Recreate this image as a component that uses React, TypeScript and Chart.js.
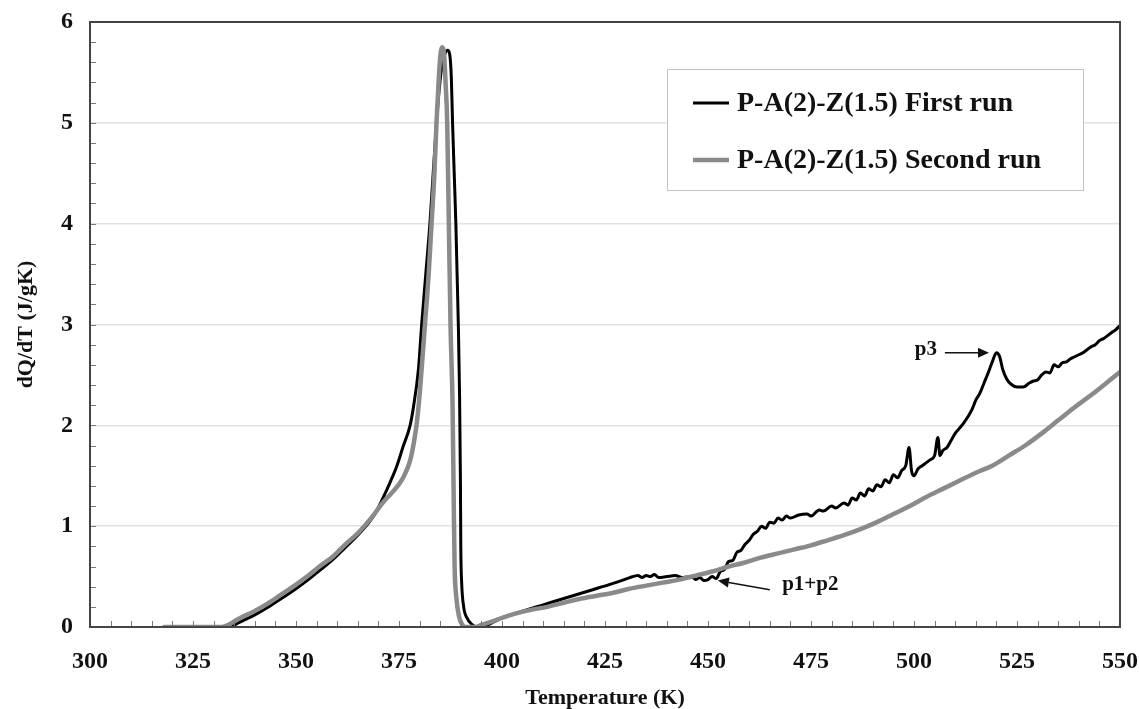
import React, { useEffect, useRef } from "react";
import { Chart, registerables } from "chart.js";

Chart.register(...registerables);

// ---- Data ----
const firstRunT = [
  320, 325, 330, 334, 336, 338, 340, 343, 346, 350, 353, 356, 359, 362, 365, 367, 369, 371, 373, 374.5,
  376, 377.7, 378.5, 379.7, 380.5, 381.5, 382.5, 383.3, 384.1, 384.8, 385.5, 386.2, 386.8, 387.3, 387.7,
  388.0, 388.4, 388.8, 389.1, 389.4, 389.7, 389.9, 390.0, 390.2, 390.7, 391.5, 392.6, 394, 396, 398, 400,
  403, 406, 410, 414, 418, 422, 426, 429, 431, 433, 434, 435, 436, 437, 438, 440, 442, 444, 446, 447, 448,
  449, 450, 451, 452, 453, 454, 455, 456, 457, 458, 459, 460, 461, 462, 463, 464, 465, 466, 467, 468, 469,
  470, 472, 474, 475, 477, 478, 480, 481, 483, 484, 485, 486, 487, 488, 489, 490, 491, 492, 493, 494, 495,
  496, 497, 498, 498.8, 499.4, 500, 501, 502, 503, 504, 505, 505.8, 506.3, 507, 508, 509, 510, 511, 512,
  513, 514, 515, 516, 517, 518, 519, 520, 520.8, 521.5, 522.5, 523.5, 525, 526.5, 528, 529, 530, 531, 532,
  533, 534, 535, 536, 537, 538, 539, 540, 541, 542, 543, 544, 545, 546, 547, 548, 549, 550,
];
const firstRunDQ = [
  0, 0, 0, 0, 0.04, 0.08, 0.12, 0.19, 0.27, 0.38, 0.47, 0.57, 0.67, 0.79, 0.91, 1.0, 1.11, 1.27, 1.45, 1.6,
  1.79, 2.0, 2.18, 2.55, 3.0, 3.5, 4.0, 4.5, 5.0, 5.35, 5.58, 5.69, 5.72, 5.68, 5.45,
  5.0, 4.5, 4.0, 3.5, 3.0, 2.3, 1.5, 0.8, 0.45, 0.2, 0.09, 0.03, 0, 0.01, 0.05, 0.09,
  0.13, 0.17, 0.22, 0.27, 0.32, 0.37, 0.42, 0.46, 0.49, 0.51, 0.49, 0.51, 0.5, 0.52, 0.49, 0.5, 0.51, 0.49, 0.5, 0.47, 0.49,
  0.46, 0.47, 0.5, 0.48, 0.55, 0.57, 0.65, 0.66, 0.74, 0.76, 0.82, 0.86, 0.92, 0.95, 1.0, 0.98, 1.04, 1.03, 1.08, 1.06, 1.1,
  1.08, 1.11, 1.12, 1.1, 1.16, 1.15, 1.2, 1.18, 1.23, 1.21, 1.28, 1.26, 1.33, 1.3, 1.37, 1.35, 1.41, 1.39, 1.46, 1.43, 1.51,
  1.48, 1.55, 1.6, 1.78, 1.55, 1.5, 1.57, 1.6, 1.63, 1.66, 1.7, 1.88, 1.7, 1.75, 1.78, 1.85, 1.92, 1.97, 2.02,
  2.08, 2.15, 2.25, 2.32, 2.42, 2.52, 2.63, 2.72, 2.68, 2.56, 2.46, 2.41, 2.38, 2.38, 2.42, 2.44, 2.45, 2.5, 2.53,
  2.52, 2.6, 2.58, 2.62, 2.63, 2.66, 2.68, 2.7, 2.72, 2.75, 2.78, 2.8, 2.84, 2.86, 2.89, 2.92, 2.95, 2.99,
];

const secondRunT = [
  318, 325, 332, 333.5, 336, 340, 343, 346, 350, 353, 356, 359, 362, 365, 367, 369, 371, 373, 374.5, 376,
  377.7, 378.7, 379.4, 380.2, 381.3, 382.2, 382.9, 383.6, 384.1, 384.6, 385.0, 385.5, 385.9, 386.3, 386.7,
  387.1, 387.5, 388.0, 388.3, 388.5, 388.9, 389.6, 390.4, 391, 393.5, 395, 398, 400, 403, 407, 411, 415,
  419, 423, 427, 431, 435, 439, 443, 447, 451, 455, 459, 463, 467, 471, 475, 479, 483, 487, 491, 495, 499,
  503, 507, 511, 515, 519, 523, 527, 531, 535, 539, 543, 547, 550,
];
const secondRunDQ = [
  0, 0, 0, 0.02, 0.08, 0.16, 0.23, 0.31, 0.42, 0.51, 0.61, 0.7, 0.82, 0.93, 1.02, 1.12, 1.23, 1.32, 1.39, 1.48,
  1.65, 1.85, 2.05, 2.4, 3.0, 3.5, 4.0, 4.5, 5.0, 5.4, 5.65, 5.75, 5.7, 5.4, 5.0,
  4.0, 3.0, 2.2, 1.2, 0.6, 0.3, 0.1, 0.02, 0, 0, 0.02, 0.06, 0.09, 0.13, 0.17, 0.2, 0.24,
  0.28, 0.31, 0.34, 0.38, 0.41, 0.44, 0.47, 0.51, 0.55, 0.6, 0.64, 0.69, 0.73, 0.77, 0.81, 0.86, 0.91, 0.97, 1.04, 1.12, 1.2,
  1.29, 1.37, 1.45, 1.53, 1.6, 1.7, 1.8, 1.92, 2.05, 2.18, 2.3, 2.43, 2.53,
];

const seriesLabels = ["P-A(2)-Z(1.5) First run", "P-A(2)-Z(1.5) Second run"];

const xMin = 300;
const xMax = 550;
const xStep = 25;
const xMinorStep = 5;
const yMin = 0;
const yMax = 6;
const yStep = 1;
const yMinorStep = 0.2;

const xTitle = "Temperature (K)";
const yTitle = "dQ/dT (J/gK)";

// annotation texts with data-space anchors
const annotationTexts = ["p3", "p1+p2"];
const annotationTextT = [502.9, 468];
const annotationTextY = [2.75, 0.42];
const annotationArrowFromT = [507.5, 465];
const annotationArrowFromY = [2.72, 0.37];
const annotationArrowToT = [518.2, 452.4];
const annotationArrowToY = [2.72, 0.46];

const SERIF = "'Liberation Serif', 'DejaVu Serif', serif";

const framePlugin = {
  id: "frameAndExtras",
  afterDatasetsDraw(chart: any) {
    const { ctx, chartArea, scales } = chart;
    const { left, right, top, bottom } = chartArea;
    const x = scales.x;
    const y = scales.y;
    ctx.save();

    // minor ticks (inward)
    ctx.strokeStyle = "#7a7a7a";
    ctx.lineWidth = 1;
    ctx.beginPath();
    const nx = Math.round((xMax - xMin) / xMinorStep);
    for (let i = 1; i < nx; i++) {
      const px = Math.round(x.getPixelForValue(xMin + i * xMinorStep)) + 0.5;
      ctx.moveTo(px, bottom);
      ctx.lineTo(px, bottom - 6);
    }
    const ny = Math.round((yMax - yMin) / yMinorStep);
    for (let i = 1; i < ny; i++) {
      const py = Math.round(y.getPixelForValue(yMin + i * yMinorStep)) + 0.5;
      ctx.moveTo(left, py);
      ctx.lineTo(left + 6, py);
    }
    ctx.stroke();

    // frame
    ctx.strokeStyle = "#444";
    ctx.lineWidth = 2;
    ctx.strokeRect(left, top, right - left, bottom - top);

    // annotations
    ctx.fillStyle = "#111";
    ctx.strokeStyle = "#111";
    ctx.font = `bold 21px ${SERIF}`;
    ctx.textBaseline = "middle";
    annotationTexts.forEach((t, i) => {
      const tx = x.getPixelForValue(annotationTextT[i]);
      const ty = y.getPixelForValue(annotationTextY[i]);
      ctx.textAlign = i === 0 ? "center" : "left";
      ctx.fillText(t, tx, ty);
      const fx = x.getPixelForValue(annotationArrowFromT[i]);
      const fy = y.getPixelForValue(annotationArrowFromY[i]);
      const ax = x.getPixelForValue(annotationArrowToT[i]);
      const ay = y.getPixelForValue(annotationArrowToY[i]);
      const ang = Math.atan2(ay - fy, ax - fx);
      const headLen = 11;
      const headW = 5;
      const bx = ax - headLen * Math.cos(ang);
      const by = ay - headLen * Math.sin(ang);
      ctx.lineWidth = 1.5;
      ctx.beginPath();
      ctx.moveTo(fx, fy);
      ctx.lineTo(bx, by);
      ctx.stroke();
      ctx.beginPath();
      ctx.moveTo(ax, ay);
      ctx.lineTo(bx + headW * Math.sin(ang), by - headW * Math.cos(ang));
      ctx.lineTo(bx - headW * Math.sin(ang), by + headW * Math.cos(ang));
      ctx.closePath();
      ctx.fill();
    });

    // legend box
    const lx = left + 577;
    const ly = top + 47;
    const lw = 416;
    const lh = 121;
    ctx.fillStyle = "#fff";
    ctx.fillRect(lx, ly, lw, lh);
    ctx.strokeStyle = "#c4c4c4";
    ctx.lineWidth = 1;
    ctx.strokeRect(lx + 0.5, ly + 0.5, lw, lh);
    ctx.font = `bold 28px ${SERIF}`;
    ctx.textAlign = "left";
    ctx.textBaseline = "middle";
    chart.data.datasets.forEach((ds: any, i: number) => {
      const rowY = ly + 34 + i * 57;
      ctx.strokeStyle = ds.borderColor;
      ctx.lineWidth = ds.borderWidth;
      ctx.lineCap = "butt";
      ctx.beginPath();
      ctx.moveTo(lx + 26, rowY);
      ctx.lineTo(lx + 62, rowY);
      ctx.stroke();
      ctx.fillStyle = "#111";
      ctx.fillText(ds.label, lx + 70, rowY + 1);
    });

    ctx.restore();
  },
};

export default function App() {
  const canvasRef = useRef<HTMLCanvasElement | null>(null);

  useEffect(() => {
    if (!canvasRef.current) return;
    const firstData = firstRunT.map((t, i) => ({ x: t, y: firstRunDQ[i] }));
    const secondData = secondRunT.map((t, i) => ({ x: t, y: secondRunDQ[i] }));
    const chart = new Chart(canvasRef.current, {
      type: "line",
      data: {
        datasets: [
          {
            label: seriesLabels[0],
            data: firstData,
            borderColor: "#000000",
            backgroundColor: "#000000",
            borderWidth: 3,
            pointRadius: 0,
            cubicInterpolationMode: "monotone",
            borderJoinStyle: "round",
            order: 1,
          },
          {
            label: seriesLabels[1],
            data: secondData,
            borderColor: "#8a8a8a",
            backgroundColor: "#8a8a8a",
            borderWidth: 4.5,
            pointRadius: 0,
            cubicInterpolationMode: "monotone",
            borderJoinStyle: "round",
            borderCapStyle: "round",
            order: 0,
          },
        ],
      },
      options: {
        animation: false,
        responsive: true,
        maintainAspectRatio: false,
        layout: { padding: { left: 0, top: 22, right: 19, bottom: 0 } },
        plugins: {
          legend: { display: false },
          tooltip: { enabled: false },
        },
        scales: {
          x: {
            type: "linear",
            min: xMin,
            max: xMax,
            ticks: {
              stepSize: xStep,
              color: "#111",
              font: { family: SERIF, size: 24, weight: "bold" },
              padding: 20,
              maxRotation: 0,
            },
            grid: { display: false, drawTicks: false },
            border: { display: false },
            title: {
              display: true,
              text: xTitle,
              color: "#111",
              font: { family: SERIF, size: 22, weight: "bold", lineHeight: 1.0 },
              padding: { top: 0, bottom: 0 },
            },
            afterFit: (scale: any) => {
              scale.height = 82;
              scale.paddingLeft = 0;
              scale.paddingRight = 0;
            },
          },
          y: {
            type: "linear",
            min: yMin,
            max: yMax,
            ticks: {
              stepSize: yStep,
              color: "#111",
              font: { family: SERIF, size: 24, weight: "bold" },
              padding: 17,
            },
            grid: { display: true, drawTicks: false, color: "#e2e2e2", lineWidth: 1.5 },
            border: { display: false },
            title: {
              display: true,
              text: yTitle,
              color: "#111",
              font: { family: SERIF, size: 22, weight: "bold" },
              padding: { top: 13, bottom: 0 },
            },
            afterFit: (scale: any) => {
              scale.width = 90;
              scale.paddingTop = 0;
              scale.paddingBottom = 0;
            },
          },
        },
      },
      plugins: [framePlugin],
    });
    return () => chart.destroy();
  }, []);

  return (
    <div style={{ position: "fixed", left: 0, top: 0, width: 1139, height: 709, background: "#fff" }}>
      <canvas ref={canvasRef} />
    </div>
  );
}
